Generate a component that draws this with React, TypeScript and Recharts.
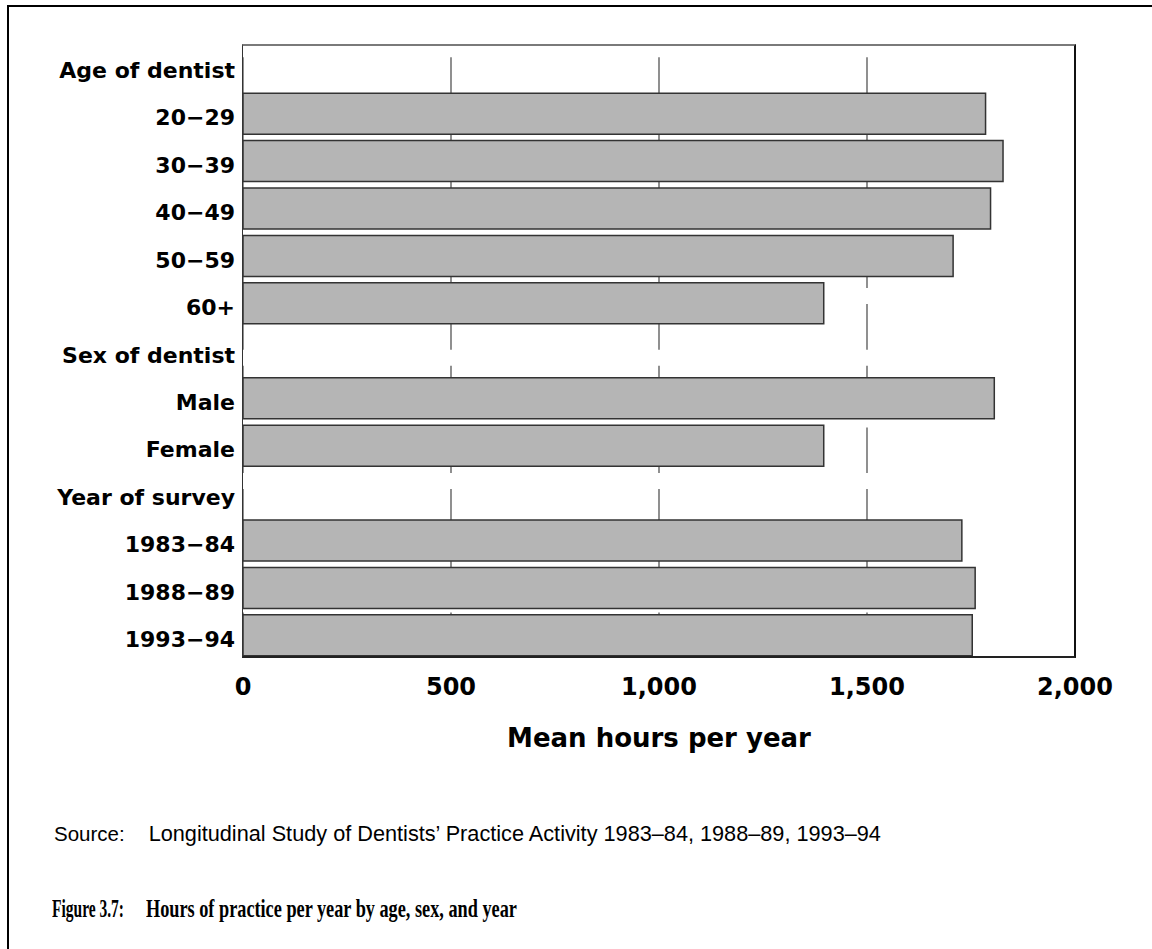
import { BarChart, Bar, XAxis, YAxis, CartesianGrid, Label } from 'recharts';

// rows top to bottom; heading rows carry no value
const categories = [
  'Age of dentist', '20−29', '30−39', '40−49', '50−59', '60+',
  'Sex of dentist', 'Male', 'Female',
  'Year of survey', '1983−84', '1988−89', '1993−94',
];
const hours = [null, 1785, 1827, 1797, 1707, 1396, null, 1806, 1396, null, 1728, 1760, 1753];
const xTicks = [0, 500, 1000, 1500, 2000];

const data = categories.map((name, i) => ({ name, hours: hours[i] }));

const SANS_BOLD = '"DejaVu Sans", sans-serif';
const SERIF = '"Liberation Serif", "Times New Roman", serif';

function YTick(props: any) {
  const { x, y, payload } = props;
  return (
    <text x={x} y={y} dy={11.5} textAnchor="end" fontFamily={SANS_BOLD} fontWeight="bold" fontSize={22} fill="#000">
      {payload.value}
    </text>
  );
}

function XTick(props: any) {
  const { x, y, payload } = props;
  return (
    <text x={x} y={y} dy={35.4} textAnchor="middle" fontFamily={SANS_BOLD} fontWeight="bold" fontSize={24} fill="#000">
      {payload.value.toLocaleString('en-US')}
    </text>
  );
}

export default function App() {
  return (
    <div style={{ position: 'absolute', left: 0, top: 0, width: 1152, height: 949, background: '#fff', overflow: 'hidden' }}>
      {/* page frame */}
      <div style={{ position: 'absolute', left: 7, top: 5, width: 1200, height: 1000, borderLeft: '2px solid #000', borderTop: '2px solid #000' }} />

      <div style={{ position: 'absolute', left: 0, top: 0 }}>
        <BarChart
          width={1152}
          height={762}
          data={data}
          layout="vertical"
          margin={{ top: 42.7, right: 77, bottom: 0, left: 0 }}
          barSize={41}
        >
          <CartesianGrid
            horizontal={false}
            stroke="#555"
            strokeWidth={1.3}
            strokeDasharray="45.67 16"
            strokeDashoffset={47}
          />
          <XAxis
            type="number"
            domain={[0, 2000]}
            ticks={xTicks}
            axisLine={false}
            tickLine={false}
            tickSize={0}
            tickMargin={0}
            height={102.7}
            tick={<XTick />}
            interval={0}
          >
            <Label
              value="Mean hours per year"
              position="insideBottom"
              offset={15.3}
              fontFamily={SANS_BOLD}
              fontWeight="bold"
              fontSize={26}
              fill="#000"
            />
          </XAxis>
          <YAxis
            type="category"
            dataKey="name"
            width={243}
            axisLine={false}
            tickLine={false}
            tickSize={0}
            tickMargin={8}
            interval={0}
            tick={<YTick />}
          />
          <Bar dataKey="hours" fill="#b5b5b5" stroke="#333" strokeWidth={1.5} isAnimationActive={false} />
        </BarChart>
      </div>

      {/* plot box */}
      <div style={{
        position: 'absolute', left: 242, top: 44, width: 834, height: 614, boxSizing: 'border-box',
        borderTop: '2px solid #7a7a7a', borderLeft: '1.5px solid #333', borderRight: '2px solid #111', borderBottom: '2px solid #222',
        pointerEvents: 'none',
      }} />

      <div style={{ position: 'absolute', left: 54, top: 823.3, lineHeight: 1, fontFamily: '"Liberation Sans", Arial, sans-serif', fontSize: 21.7, whiteSpace: 'nowrap', color: '#000' }}>
        <span style={{ fontSize: 20.5 }}>Source:</span>
        <span style={{ marginLeft: 24 }}>Longitudinal Study of Dentists’ Practice Activity 1983–84, 1988–89, 1993–94</span>
      </div>

      <div style={{
        position: 'absolute', left: 51.5, top: 895.8, lineHeight: 1, fontFamily: SERIF, fontWeight: 'bold', fontSize: 25,
        whiteSpace: 'nowrap', color: '#000', transform: 'scaleX(0.62)', transformOrigin: 'left top',
      }}>
        Figure 3.7:
      </div>
      <div style={{
        position: 'absolute', left: 146, top: 895.8, lineHeight: 1, fontFamily: SERIF, fontWeight: 'bold', fontSize: 25,
        whiteSpace: 'nowrap', color: '#000', transform: 'scaleX(0.73)', transformOrigin: 'left top',
      }}>
        Hours of practice per year by age, sex, and year
      </div>
    </div>
  );
}
